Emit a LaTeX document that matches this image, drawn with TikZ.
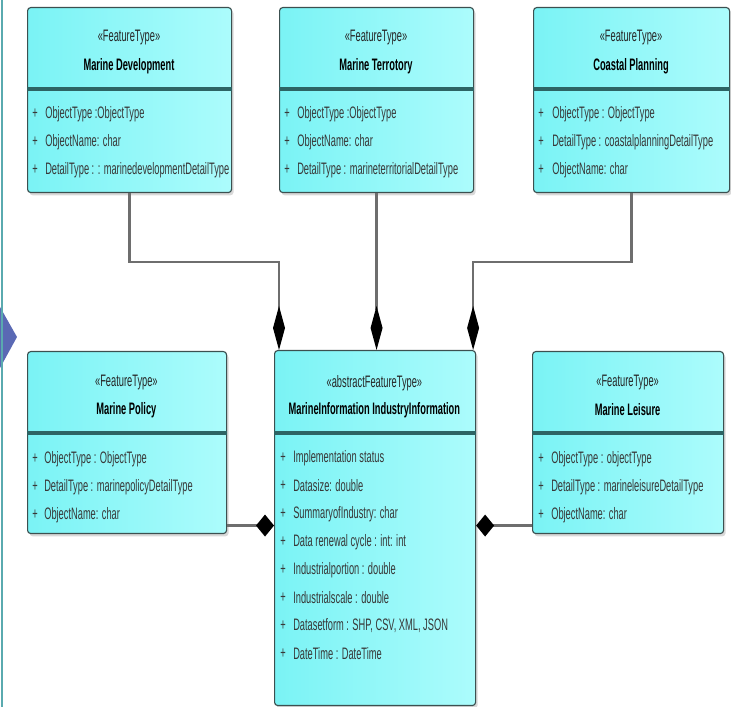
\documentclass[tikz,border=0pt]{standalone}
\usepackage{fontspec}
\setmainfont{Liberation Sans}[FakeStretch=0.56]
\usetikzlibrary{arrows.meta,shadows}

\definecolor{boxcyan}{RGB}{122,243,245}
\definecolor{boxlight}{RGB}{172,252,252}
\definecolor{boxedge}{RGB}{60,80,80}
\definecolor{divcol}{RGB}{45,100,100}
\definecolor{linkgray}{RGB}{110,110,110}
\definecolor{edgeteal}{RGB}{90,170,175}
\definecolor{chevblue}{RGB}{90,105,180}

\tikzset{
  classbox/.style={draw=boxedge, line width=0.8pt, rounded corners=0.08cm,
    left color=boxcyan, right color=boxlight, anchor=north west, inner sep=0pt,
    drop shadow={shadow xshift=0.05cm, shadow yshift=-0.07cm, opacity=0.3, fill=gray}},
  divider/.style={draw=divcol, line width=2.4pt},
  stereo/.style={font=\fontsize{11.8pt}{13pt}\selectfont, text=black!85},
  cname/.style={font=\fontsize{11.8pt}{13pt}\selectfont\bfseries},
  attr/.style={font=\fontsize{11.8pt}{13pt}\selectfont, text=black!78, anchor=west, inner sep=0pt},
  link/.style={draw=linkgray, line width=1.6pt},
  vlink/.style={link, -{Diamond[length=1.1cm,width=0.3cm,color=black]}},
  hlink/.style={link, -{Diamond[length=0.45cm,width=0.55cm,color=black]}}
}

\begin{document}
\begin{tikzpicture}
\useasboundingbox (0,0) rectangle (18.275,17.675);

%left margin of the slide
\fill[chevblue] (0,10.0) -- (0.425,9.25) -- (0,8.475) -- cycle;
\draw[edgeteal, line width=1.4pt] (0.05,0) -- (0.05,17.675);

% top row
\node[classbox, minimum width=5.1cm, minimum height=4.625cm] (devbox) at (0.675,17.5) {};
\node[classbox, minimum width=4.85cm, minimum height=4.625cm] (terbox) at (6.975,17.5) {};
\node[classbox, minimum width=4.9cm, minimum height=4.625cm] (coastbox) at (13.325,17.5) {};

\draw[divider] ([yshift=-2.05cm]devbox.north west) -- ([yshift=-2.05cm]devbox.north east);
\draw[divider] ([yshift=-2.05cm]terbox.north west) -- ([yshift=-2.05cm]terbox.north east);
\draw[divider] ([yshift=-2.05cm]coastbox.north west) -- ([yshift=-2.05cm]coastbox.north east);

\node[stereo] (devst) at (3.225,16.725) {«FeatureType»};
\node[cname] (devnm) at (3.225,16.025) {Marine Development};
\node[attr] (devp1) at (0.8,14.825) {+};
\node[attr] (devp2) at (0.8,14.125) {+};
\node[attr] (devp3) at (0.8,13.425) {+};
\node[attr] (deva1) at (1.125,14.825) {ObjectType :ObjectType};
\node[attr] (deva2) at (1.125,14.125) {ObjectName: char};
\node[attr] (deva3) at (1.125,13.425) {DetailType : : marinedevelopmentDetailType};

\node[stereo] (terst) at (9.4,16.725) {«FeatureType»};
\node[cname] (ternm) at (9.4,16.025) {Marine Terrotory};
\node[attr] (terp1) at (7.1,14.825) {+};
\node[attr] (terp2) at (7.1,14.125) {+};
\node[attr] (terp3) at (7.1,13.425) {+};
\node[attr] (tera1) at (7.425,14.825) {ObjectType :ObjectType};
\node[attr] (tera2) at (7.425,14.125) {ObjectName: char};
\node[attr] (tera3) at (7.425,13.425) {DetailType : marineterritorialDetailType};

\node[stereo] (coastst) at (15.775,16.725) {«FeatureType»};
\node[cname] (coastnm) at (15.775,16.025) {Coastal Planning};
\node[attr] (coastp1) at (13.45,14.825) {+};
\node[attr] (coastp2) at (13.45,14.125) {+};
\node[attr] (coastp3) at (13.45,13.425) {+};
\node[attr] (coasta1) at (13.8,14.825) {ObjectType : ObjectType};
\node[attr] (coasta2) at (13.8,14.125) {DetailType : coastalplanningDetailType};
\node[attr] (coasta3) at (13.8,13.425) {ObjectName: char};

% bottom row
\node[classbox, minimum width=4.975cm, minimum height=4.55cm] (polbox) at (0.675,8.9) {};
\node[classbox, minimum width=5.025cm, minimum height=8.875cm] (infobox) at (6.85,8.925) {};
\node[classbox, minimum width=4.775cm, minimum height=4.55cm] (leisbox) at (13.3,8.9) {};

\draw[divider] ([yshift=-2.05cm]polbox.north west) -- ([yshift=-2.05cm]polbox.north east);
\draw[divider] ([yshift=-2.075cm]infobox.north west) -- ([yshift=-2.075cm]infobox.north east);
\draw[divider] ([yshift=-2.05cm]leisbox.north west) -- ([yshift=-2.05cm]leisbox.north east);

\node[stereo] (polst) at (3.16,8.1) {«FeatureType»};
\node[cname] (polnm) at (3.16,7.425) {Marine Policy};
\node[attr] (polp1) at (0.8,6.2) {+};
\node[attr] (polp2) at (0.8,5.5) {+};
\node[attr] (polp3) at (0.8,4.8) {+};
\node[attr] (pola1) at (1.1,6.2) {ObjectType : ObjectType};
\node[attr] (pola2) at (1.1,5.5) {DetailType : marinepolicyDetailType};
\node[attr] (pola3) at (1.1,4.8) {ObjectName: char};

\node[stereo] (infost) at (9.36,8.1) {«abstractFeatureType»};
\node[cname] (infonm) at (9.36,7.425) {MarineInformation IndustryInformation};
\node[attr] (infop1) at (7.0,6.225) {+};
\node[attr] (infop2) at (7.0,5.525) {+};
\node[attr] (infop3) at (7.0,4.825) {+};
\node[attr] (infop4) at (7.0,4.125) {+};
\node[attr] (infop5) at (7.0,3.425) {+};
\node[attr] (infop6) at (7.0,2.725) {+};
\node[attr] (infop7) at (7.0,2.025) {+};
\node[attr] (infop8) at (7.0,1.325) {+};
\node[attr] (infoa1) at (7.325,6.225) {Implementation status};
\node[attr] (infoa2) at (7.325,5.525) {Datasize: double};
\node[attr] (infoa3) at (7.325,4.825) {SummaryofIndustry: char};
\node[attr] (infoa4) at (7.325,4.125) {Data renewal cycle : int: int};
\node[attr] (infoa5) at (7.325,3.425) {Industrialportion : double};
\node[attr] (infoa6) at (7.325,2.725) {Industrialscale : double};
\node[attr] (infoa7) at (7.325,2.025) {Datasetform : SHP, CSV, XML, JSON};
\node[attr] (infoa8) at (7.325,1.325) {DateTime : DateTime};

\node[stereo] (leisst) at (15.69,8.1) {«FeatureType»};
\node[cname] (leisnm) at (15.69,7.425) {Marine Leisure};
\node[attr] (leisp1) at (13.45,6.2) {+};
\node[attr] (leisp2) at (13.45,5.5) {+};
\node[attr] (leisp3) at (13.45,4.8) {+};
\node[attr] (leisa1) at (13.775,6.2) {ObjectType : objectType};
\node[attr] (leisa2) at (13.775,5.5) {DetailType : marineleisureDetailType};
\node[attr] (leisa3) at (13.775,4.8) {ObjectName: char};

% compositions
\draw[vlink] (devbox.south) -- ++(0,-1.725) -| ([xshift=0.125cm]infobox.north west);
\draw[vlink] (terbox.south) -- (terbox.south |- infobox.north);
\draw[vlink] (coastbox.south) -- ++(0,-1.725) -| ([xshift=-0.075cm]infobox.north east);
\draw[hlink] ([yshift=-2.075cm]polbox.east) -- ([yshift=-2.075cm]polbox.east -| infobox.west);
\draw[hlink] ([yshift=-2.075cm]leisbox.west) -- ([yshift=-2.075cm]leisbox.west -| infobox.east);

\end{tikzpicture}
\end{document}
